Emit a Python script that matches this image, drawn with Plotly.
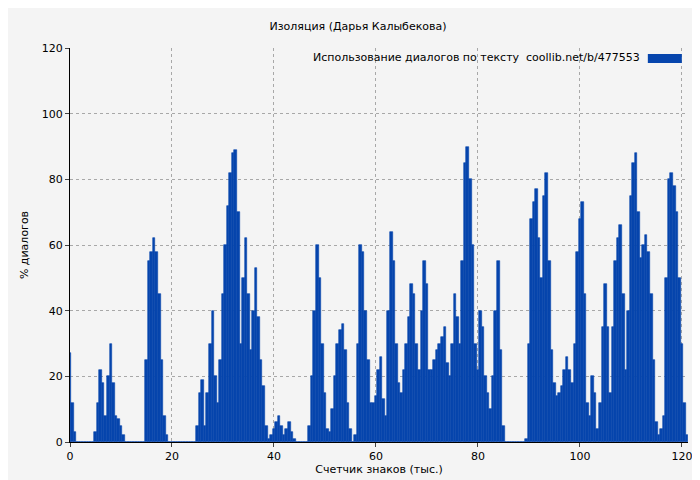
import plotly.graph_objects as go

step = 0.5
values = [27,12,3,0, 0,0,0,0,0,0,
 3,12,22,18,8,20,30,18,8,7,5,2,0,
 0,0,0,0,0,0,0,
 25,55,58,62,58,45,25,8,2,0,
 0,0,0,0,0,0,0,0,0,0,
 5,15,19,5,15,30,40,20,12,25,45,60,72,82,88,89,70,30,50,62,45,28,40,53,38,25,17,5,1,2,4,6,8,5,2,4,6,3,1,0,
 0,0,0,0,
 5,20,40,60,50,30,15,4,3,10,20,30,34,36,28,12,4,0,2,30,60,58,40,25,12,12,14,22,26,13,8,40,64,55,30,18,15,22,30,38,48,45,30,22,40,55,48,22,22,25,28,30,32,35,24,20,30,45,38,30,55,85,90,80,60,30,22,40,35,20,15,10,20,40,55,28,5,0,
 0,0,0,0,0,0,0,1,
 30,68,73,77,62,50,75,82,55,28,18,14,15,17,22,26,22,18,30,58,68,73,45,12,8,20,15,4,12,35,48,35,15,35,55,62,66,45,22,40,75,85,88,70,56,60,63,58,45,25,6,2,4,8,50,80,82,78,70,50,30,12,2]
xs = [i*step for i in range(len(values))]

fig = go.Figure(go.Bar(x=xs, y=values, width=step,
                       marker=dict(color="#0645ad", line=dict(width=0.6, color="#0645ad")),
                       showlegend=False))
fig.update_layout(
    width=700, height=480, paper_bgcolor="#f4f4f4", plot_bgcolor="#f4f4f4",
    margin=dict(l=62, r=20, t=40, b=46, autoexpand=False), bargap=0,
    font=dict(family="DejaVu Sans", size=11, color="#000"),
    title=dict(text="Изоляция (Дарья Калыбекова)", x=0.5, xanchor="center", y=0.962, yanchor="middle", font=dict(size=11)),
    xaxis=dict(range=[0, 121.2], tickvals=[0,20,40,60,80,100,120], showline=True, linecolor="#000",
               ticks="outside", ticklen=4, showgrid=True, gridcolor="#a8a8a8", griddash="dot", zeroline=False,
               automargin=False, tickfont=dict(size=11),
               title=dict(text="Счетчик знаков (тыс.)", standoff=2, font=dict(size=11))),
    yaxis=dict(range=[0, 120], tickvals=[0,20,40,60,80,100,120], showline=True, linecolor="#000",
               ticks="outside", ticklen=4, showgrid=True, gridcolor="#a8a8a8", griddash="dot", zeroline=False,
               automargin=False, tickfont=dict(size=11),
               title=dict(text="% диалогов", standoff=10, font=dict(size=11))),
)
fig.add_annotation(xref="paper", yref="paper", x=0.925, y=0.975, xanchor="right", yanchor="middle",
                   text="Использование диалогов по тексту  coollib.net/b/477553", showarrow=False, font=dict(size=11))
fig.add_shape(type="rect", xref="paper", yref="paper", x0=0.935, x1=0.99, y0=0.962, y1=0.985,
              fillcolor="#0645ad", line=dict(width=0))
fig.write_html("out.html")
